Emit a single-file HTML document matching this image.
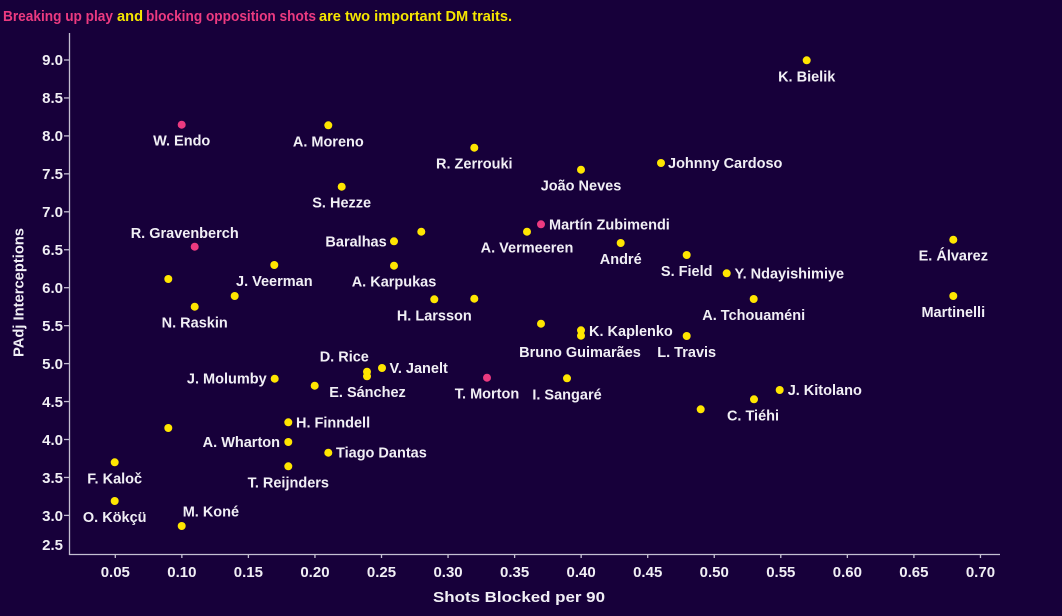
<!DOCTYPE html>
<html><head><meta charset="utf-8"><style>
html,body{margin:0;padding:0;background:#17003a;}
svg{display:block;}
text{font-family:"Liberation Sans",sans-serif;font-weight:bold;}
.l{fill:#f1eff5;font-size:14.5px;}
.t{fill:#f1eff5;font-size:15px;}
</style></head><body>
<svg width="1062" height="616" viewBox="0 0 1062 616" xmlns="http://www.w3.org/2000/svg">
<rect width="1062" height="616" fill="#17003a"/>
<!-- title -->
<g font-size="15">
<text x="3" y="21" fill="#ec3a80" textLength="110" lengthAdjust="spacingAndGlyphs">Breaking up play</text>
<text x="117" y="21" fill="#f5e600" textLength="26" lengthAdjust="spacingAndGlyphs">and</text>
<text x="146" y="21" fill="#ec3a80" textLength="170" lengthAdjust="spacingAndGlyphs">blocking opposition shots</text>
<text x="319" y="21" fill="#f5e600" textLength="193" lengthAdjust="spacingAndGlyphs">are two important DM traits.</text>
</g>
<!-- axes -->
<g stroke="#c4bfd2" stroke-width="1.3" fill="none">
<line x1="69.5" y1="33" x2="69.5" y2="555"/>
<line x1="69" y1="554.5" x2="1000" y2="554.5"/>
<line x1="64" y1="60" x2="69.5" y2="60"/>
<line x1="64" y1="97.95" x2="69.5" y2="97.95"/>
<line x1="64" y1="135.9" x2="69.5" y2="135.9"/>
<line x1="64" y1="173.85" x2="69.5" y2="173.85"/>
<line x1="64" y1="211.8" x2="69.5" y2="211.8"/>
<line x1="64" y1="249.75" x2="69.5" y2="249.75"/>
<line x1="64" y1="287.7" x2="69.5" y2="287.7"/>
<line x1="64" y1="325.65" x2="69.5" y2="325.65"/>
<line x1="64" y1="363.6" x2="69.5" y2="363.6"/>
<line x1="64" y1="401.55" x2="69.5" y2="401.55"/>
<line x1="64" y1="439.5" x2="69.5" y2="439.5"/>
<line x1="64" y1="477.45" x2="69.5" y2="477.45"/>
<line x1="64" y1="515.4" x2="69.5" y2="515.4"/>
<line x1="115.3" y1="554.5" x2="115.3" y2="558"/>
<line x1="181.85" y1="554.5" x2="181.85" y2="558"/>
<line x1="248.4" y1="554.5" x2="248.4" y2="558"/>
<line x1="314.95" y1="554.5" x2="314.95" y2="558"/>
<line x1="381.5" y1="554.5" x2="381.5" y2="558"/>
<line x1="448.05" y1="554.5" x2="448.05" y2="558"/>
<line x1="514.6" y1="554.5" x2="514.6" y2="558"/>
<line x1="581.15" y1="554.5" x2="581.15" y2="558"/>
<line x1="647.7" y1="554.5" x2="647.7" y2="558"/>
<line x1="714.25" y1="554.5" x2="714.25" y2="558"/>
<line x1="780.8" y1="554.5" x2="780.8" y2="558"/>
<line x1="847.35" y1="554.5" x2="847.35" y2="558"/>
<line x1="913.9" y1="554.5" x2="913.9" y2="558"/>
<line x1="980.45" y1="554.5" x2="980.45" y2="558"/>
</g>
<!-- y tick labels -->
<g class="t" text-anchor="end">
<text class="t" x="63" y="65">9.0</text>
<text class="t" x="63" y="103">8.5</text>
<text class="t" x="63" y="141">8.0</text>
<text class="t" x="63" y="179">7.5</text>
<text class="t" x="63" y="217">7.0</text>
<text class="t" x="63" y="255">6.5</text>
<text class="t" x="63" y="293">6.0</text>
<text class="t" x="63" y="331">5.5</text>
<text class="t" x="63" y="369">5.0</text>
<text class="t" x="63" y="407">4.5</text>
<text class="t" x="63" y="445">4.0</text>
<text class="t" x="63" y="483">3.5</text>
<text class="t" x="63" y="521">3.0</text>
<text class="t" x="63" y="550">2.5</text>
</g>
<!-- x tick labels -->
<g text-anchor="middle">
<text class="t" x="115.3" y="577">0.05</text>
<text class="t" x="181.85" y="577">0.10</text>
<text class="t" x="248.4" y="577">0.15</text>
<text class="t" x="314.95" y="577">0.20</text>
<text class="t" x="381.5" y="577">0.25</text>
<text class="t" x="448.05" y="577">0.30</text>
<text class="t" x="514.6" y="577">0.35</text>
<text class="t" x="581.15" y="577">0.40</text>
<text class="t" x="647.7" y="577">0.45</text>
<text class="t" x="714.25" y="577">0.50</text>
<text class="t" x="780.8" y="577">0.55</text>
<text class="t" x="847.35" y="577">0.60</text>
<text class="t" x="913.9" y="577">0.65</text>
<text class="t" x="980.45" y="577">0.70</text>
</g>
<!-- axis titles -->
<text class="l" x="433" y="602" textLength="172" lengthAdjust="spacingAndGlyphs">Shots Blocked per 90</text>
<text class="l" transform="translate(23.5,357) rotate(-90)" x="0" y="0" textLength="129" lengthAdjust="spacingAndGlyphs">PAdj Interceptions</text>

<!-- dots -->
<g fill="#ffe600">
<circle cx="806.7" cy="60.3" r="4"/>
<circle cx="328.3" cy="125.3" r="4"/>
<circle cx="474.3" cy="147.7" r="4"/>
<circle cx="661" cy="163" r="4"/>
<circle cx="581" cy="169.7" r="4"/>
<circle cx="341.7" cy="186.7" r="4"/>
<circle cx="527" cy="231.7" r="4"/>
<circle cx="421.3" cy="231.7" r="4"/>
<circle cx="394" cy="241.3" r="4"/>
<circle cx="953.3" cy="239.7" r="4"/>
<circle cx="620.7" cy="243" r="4"/>
<circle cx="686.7" cy="255" r="4"/>
<circle cx="274.3" cy="265" r="4"/>
<circle cx="394" cy="265.7" r="4"/>
<circle cx="726.7" cy="273.3" r="4"/>
<circle cx="168.3" cy="279" r="4"/>
<circle cx="953.3" cy="296" r="4"/>
<circle cx="234.7" cy="296" r="4"/>
<circle cx="434.3" cy="299.3" r="4"/>
<circle cx="474.3" cy="298.7" r="4"/>
<circle cx="753.7" cy="299" r="4"/>
<circle cx="194.7" cy="306.7" r="4"/>
<circle cx="541" cy="323.7" r="4"/>
<circle cx="581" cy="330.3" r="4"/>
<circle cx="581" cy="335.7" r="4"/>
<circle cx="686.7" cy="336" r="4"/>
<circle cx="367" cy="371.7" r="4"/>
<circle cx="367" cy="376.3" r="4"/>
<circle cx="382" cy="368" r="4"/>
<circle cx="274.7" cy="378.7" r="4"/>
<circle cx="567" cy="378.3" r="4"/>
<circle cx="314.7" cy="385.7" r="4"/>
<circle cx="779.7" cy="390" r="4"/>
<circle cx="754" cy="399.3" r="4"/>
<circle cx="700.7" cy="409.3" r="4"/>
<circle cx="288.3" cy="422.3" r="4"/>
<circle cx="168.3" cy="428" r="4"/>
<circle cx="288.3" cy="442" r="4"/>
<circle cx="328.3" cy="452.7" r="4"/>
<circle cx="114.7" cy="462.3" r="4"/>
<circle cx="288.3" cy="466.3" r="4"/>
<circle cx="114.7" cy="501" r="4"/>
<circle cx="181.7" cy="526" r="4"/>
</g>
<g fill="#ec3a80">
<circle cx="181.7" cy="124.7" r="4"/>
<circle cx="541" cy="224.3" r="4"/>
<circle cx="194.7" cy="246.7" r="4"/>
<circle cx="487" cy="377.7" r="4"/>
</g>

<!-- labels below -->
<g class="l" text-anchor="middle">
<text class="l" x="806.7" y="81.3">K. Bielik</text>
<text class="l" x="181.7" y="145.7">W. Endo</text>
<text class="l" x="328.3" y="146.3">A. Moreno</text>
<text class="l" x="474.3" y="168.7">R. Zerrouki</text>
<text class="l" x="581" y="190.7">João Neves</text>
<text class="l" x="341.7" y="207.7">S. Hezze</text>
<text class="l" x="527" y="252.7">A. Vermeeren</text>
<text class="l" x="953.3" y="260.7">E. Álvarez</text>
<text class="l" x="620.7" y="264">André</text>
<text class="l" x="686.7" y="276">S. Field</text>
<text class="l" x="274.3" y="286">J. Veerman</text>
<text class="l" x="394" y="286.7">A. Karpukas</text>
<text class="l" x="953.3" y="317">Martinelli</text>
<text class="l" x="434.3" y="320.3">H. Larsson</text>
<text class="l" x="753.7" y="320">A. Tchouaméni</text>
<text class="l" x="194.7" y="327.7">N. Raskin</text>
<text class="l" x="580" y="357">Bruno Guimarães</text>
<text class="l" x="686.7" y="357">L. Travis</text>
<text class="l" x="367.5" y="397">E. Sánchez</text>
<text class="l" x="487" y="398.7">T. Morton</text>
<text class="l" x="567" y="399.3">I. Sangaré</text>
<text class="l" x="753" y="420.3">C. Tiéhi</text>
<text class="l" x="114.7" y="483.3">F. Kaloč</text>
<text class="l" x="288.3" y="487.3">T. Reijnders</text>
<text class="l" x="114.7" y="522">O. Kökçü</text>
<text class="l" x="184.7" y="238">R. Gravenberch</text>
<text class="l" x="344.3" y="361.3">D. Rice</text>
</g>
<!-- labels right -->
<g>
<text class="l" x="668" y="168">Johnny Cardoso</text>
<text class="l" x="549" y="229.3">Martín Zubimendi</text>
<text class="l" x="734.5" y="278.3">Y. Ndayishimiye</text>
<text class="l" x="589" y="336">K. Kaplenko</text>
<text class="l" x="389.5" y="373">V. Janelt</text>
<text class="l" x="787.7" y="395">J. Kitolano</text>
<text class="l" x="296" y="427.3">H. Finndell</text>
<text class="l" x="336" y="457.7">Tiago Dantas</text>
<text class="l" x="182.7" y="516.3">M. Koné</text>
</g>
<!-- labels left -->
<g text-anchor="end">
<text class="l" x="386.7" y="246.3">Baralhas</text>
<text class="l" x="266.7" y="383.7">J. Molumby</text>
<text class="l" x="280" y="447">A. Wharton</text>
</g>
</svg>
</body></html>
